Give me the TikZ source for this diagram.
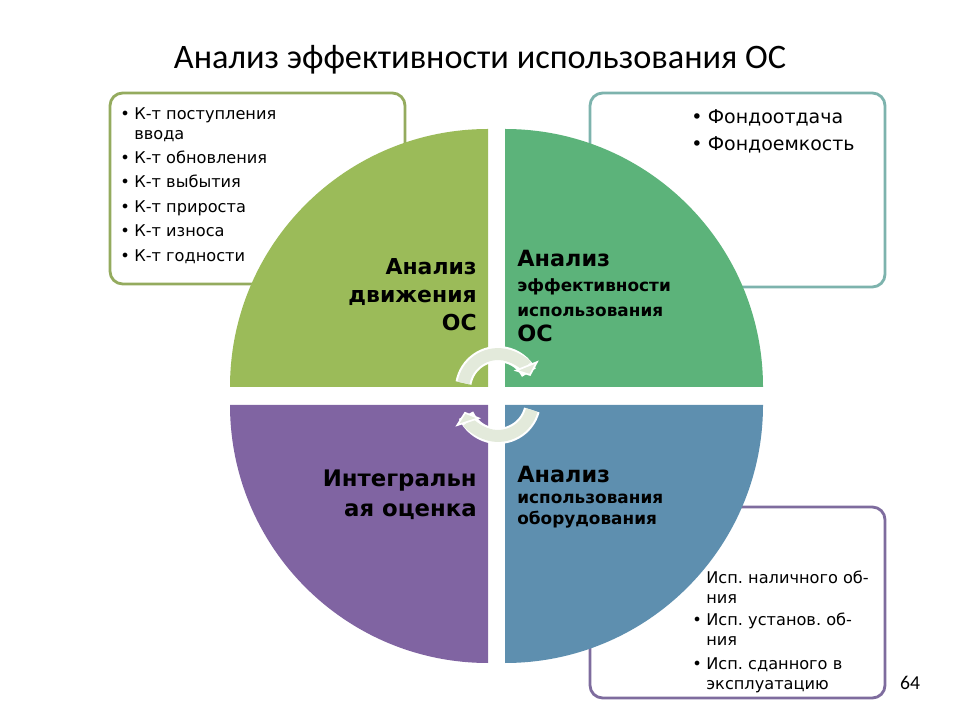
\documentclass[tikz,border=0pt]{standalone}
\usepackage{fontspec}
\setmainfont{DejaVu Sans}
\newfontfamily\titlefont{Carlito}
\usetikzlibrary{arrows.meta}
\frenchspacing

\definecolor{moveGreen}{HTML}{9BBB59}
\definecolor{effGreen}{HTML}{5CB37A}
\definecolor{integPurple}{HTML}{8064A2}
\definecolor{equipBlue}{HTML}{5E8FAF}
\definecolor{moveLine}{HTML}{94AB5E}
\definecolor{effLine}{HTML}{7DB3AD}
\definecolor{equipLine}{HTML}{7E6C9E}
\definecolor{cycleFill}{HTML}{E3EADB}

\newcommand{\bul}{\textbullet\hspace{0.28em}}
\newcommand{\nob}{\phantom{\bul}}

\tikzset{
	listbox/.style={fill=white, line width=2pt, rounded corners=9pt},
	listtext/.style={inner sep=0pt, align=left, anchor=north west},
	quadtext/.style={inner sep=0pt, font=\bfseries\fontsize{15.6}{20}\selectfont},
	cyclearrow/.style={line width=8.5pt, cycleFill, -{Triangle[length=8pt, width=19pt, color=white, fill=cycleFill, line width=1.2pt]}},
	cycleedge/.style={line width=11.5pt, white},
}

\begin{document}
\begin{tikzpicture}[x=0.025cm, y=-0.025cm]
	\useasboundingbox (0,0) rectangle (960,720);

	% title
	\node[font=\titlefont\fontsize{24.4}{28}\selectfont] (title) at (480,60) {Анализ эффективности использования ОС};

	% boxes behind the circle
	\draw[listbox, draw=moveLine] (110,93) rectangle (405,284);
	\draw[listbox, draw=effLine] (590,93) rectangle (885,287);
	\draw[listbox, draw=equipLine] (590,507) rectangle (885,698);

	% the four quarters
	\fill[moveGreen] (488,387) -- (230,387) arc[start angle=180, end angle=270, radius=258] -- cycle;
	\fill[effGreen] (505,387) -- (505,129) arc[start angle=270, end angle=360, radius=258] -- cycle;
	\fill[integPurple] (488,405) -- (230,405) arc[start angle=180, end angle=90, radius=258] -- cycle;
	\fill[equipBlue] (505,405) -- (763,405) arc[start angle=0, end angle=90, radius=258] -- cycle;

	% cycle arrows
	\draw[cycleedge] (463.5,383) arc[start angle=190, end angle=332, radius=35];
	\draw[cyclearrow] (463.5,383) arc[start angle=190, end angle=338, radius=35];
	\draw[cycleedge] (531.8,410) arc[start angle=15, end angle=156, radius=35];
	\draw[cyclearrow] (531.8,410) arc[start angle=15, end angle=162, radius=35];

	% quarter labels
	\node[quadtext, align=right, anchor=east] (moveText) at (477,295) {Анализ\\движения\\ОС};
	\node[quadtext, align=left, anchor=west, font=\bfseries\fontsize{12}{18}\selectfont] (effText) at (517,296)
		{{\fontsize{15.9}{18}\selectfont Анализ}\\эффективности\\использования\\{\fontsize{15.9}{18}\selectfont ОС}};
	\node[quadtext, align=right, anchor=east, font=\bfseries\fontsize{16.2}{21}\selectfont] (integText) at (477,495) {Интегральн\\ая оценка};
	\node[quadtext, align=left, anchor=west, font=\bfseries\fontsize{12}{14.5}\selectfont] (equipText) at (517,497)
		{{\fontsize{15.9}{14.5}\selectfont Анализ}\\[0.5pt]использования\\оборудования};

	% box lists
	\node[listtext, font=\fontsize{11.5}{14.2}\selectfont] (moveList) at (120,107)
		{\bul К-т поступления\\\nob ввода\\[3.2pt]
		\bul К-т обновления\\[3.2pt]
		\bul К-т выбытия\\[3.2pt]
		\bul К-т прироста\\[3.2pt]
		\bul К-т износа\\[3.2pt]
		\bul К-т годности};
	\node[listtext, font=\fontsize{13.5}{19.8}\selectfont] (effList) at (691,109)
		{\bul Фондоотдача\\\bul Фондоемкость};
	\node[listtext, font=\fontsize{11.5}{14.2}\selectfont] (equipList) at (692,571)
		{\nob Исп. наличного об-\\\nob ния\\[1.5pt]
		\bul Исп. установ. об-\\\nob ния\\[2.5pt]
		\bul Исп. сданного в\\\nob эксплуатацию};

	% page number
	\node[font=\titlefont\fontsize{14}{16}\selectfont] (pageNo) at (910,683) {64};
\end{tikzpicture}
\end{document}
